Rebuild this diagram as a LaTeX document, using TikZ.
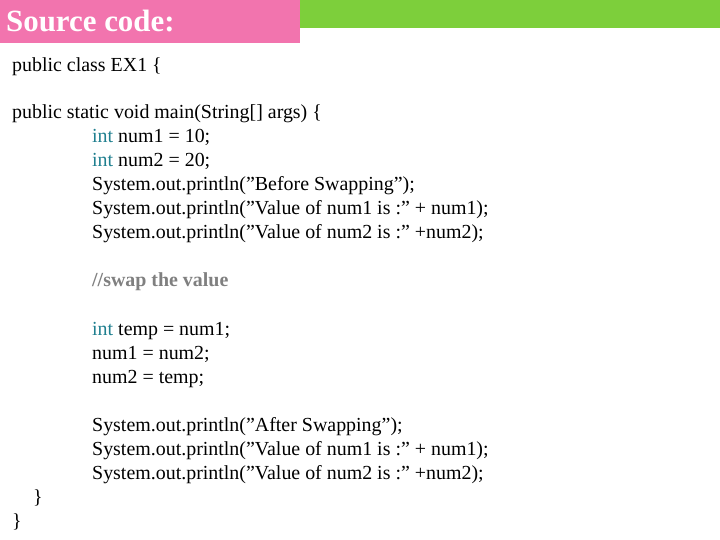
\documentclass[tikz,border=0pt]{standalone}
\usepackage{fontspec}
\setmainfont{Liberation Serif}
\definecolor{pinkc}{HTML}{F274AE}
\definecolor{greenc}{HTML}{7DCF3B}
\definecolor{kw}{HTML}{1F7F8F}
\definecolor{cmt}{HTML}{808080}
\newcommand\dq{\symbol{34}}
\begin{document}
\begin{tikzpicture}[x=1bp,y=-1bp,
  code/.style={anchor=base west,inner sep=0pt,font=\fontsize{20}{22}\selectfont}]
\useasboundingbox (0,0) rectangle (720,540);
\fill[white] (0,0) rectangle (720,540);
\fill[pinkc] (0,0) rectangle (300,43);
\fill[greenc] (300,0) rectangle (720,28);
\node[anchor=base west,inner sep=0pt,text=white,font=\fontsize{31}{34}\selectfont\bfseries] (title) at (6,32) {Source code:};
\node[code] (l1) at (12,72) {public class EX1 \{};
\node[code] (l2) at (12,119) {public static void main(String[] args) \{};
\node[code] (l3) at (92,143) {\textcolor{kw}{int} num1 = 10;};
\node[code] (l4) at (92,167) {\textcolor{kw}{int} num2 = 20;};
\node[code] (l5) at (92,191) {System.out.println(\dq Before Swapping\dq);};
\node[code] (l6) at (92,215) {System.out.println(\dq Value of num1 is :\dq{} + num1);};
\node[code] (l7) at (92,239) {System.out.println(\dq Value of num2 is :\dq{} +num2);};
\node[code,text=cmt,font=\fontsize{20}{22}\selectfont\bfseries] (l8) at (92,287) {//swap the value};
\node[code] (l9) at (92,335) {\textcolor{kw}{int} temp = num1;};
\node[code] (l10) at (92,359) {num1 = num2;};
\node[code] (l11) at (92,383) {num2 = temp;};
\node[code] (l12) at (92,431) {System.out.println(\dq After Swapping\dq);};
\node[code] (l13) at (92,455) {System.out.println(\dq Value of num1 is :\dq{} + num1);};
\node[code] (l14) at (92,479) {System.out.println(\dq Value of num2 is :\dq{} +num2);};
\node[code] (l15) at (33,503) {\}};
\node[code] (l16) at (12,527) {\}};
\end{tikzpicture}
\end{document}
